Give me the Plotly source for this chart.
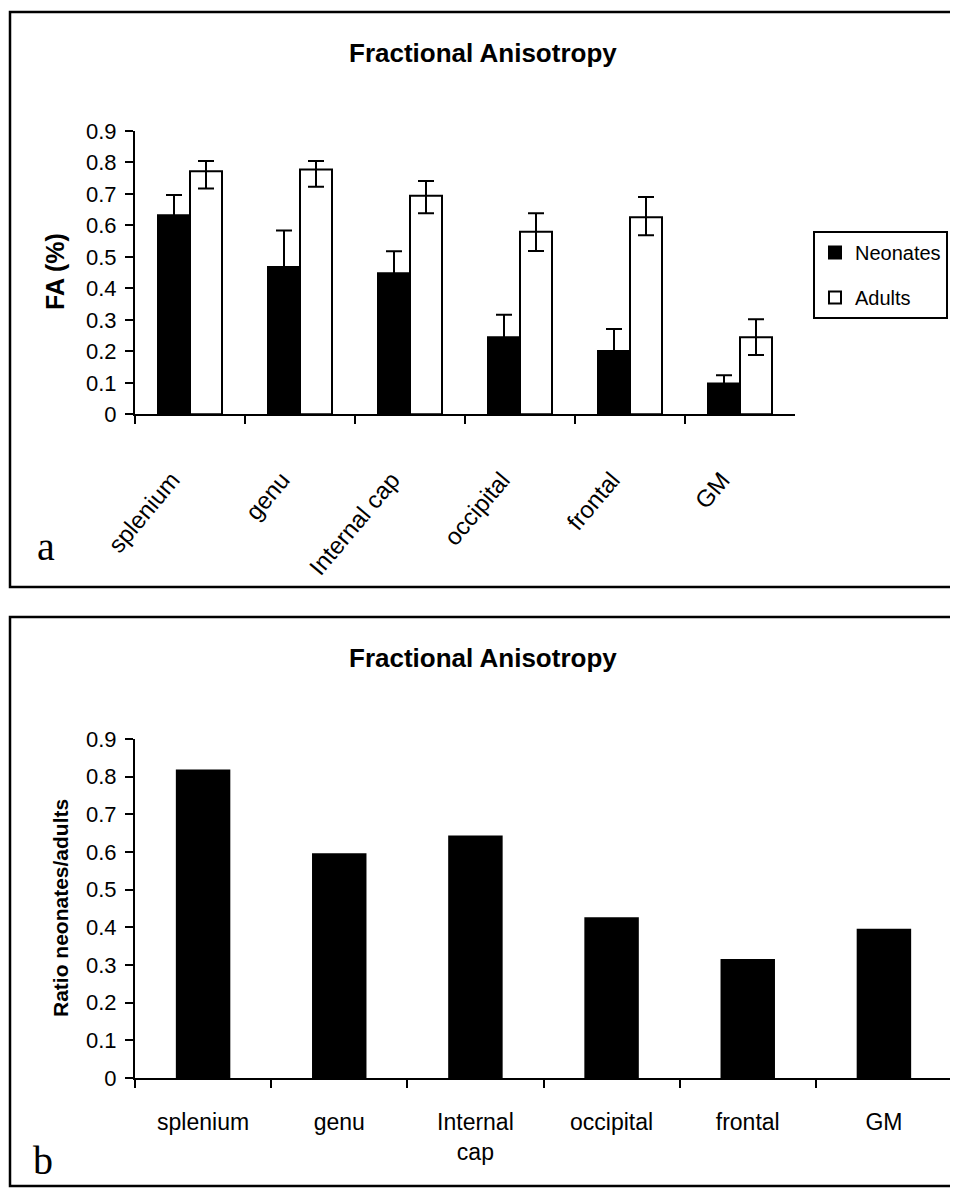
import plotly.graph_objects as go

# ---- data ----
categories_top = ["splenium", "genu", "Internal cap", "occipital", "frontal", "GM"]
neonates_fa = [0.632, 0.468, 0.448, 0.245, 0.201, 0.098]
neonates_err = [0.065, 0.116, 0.070, 0.071, 0.070, 0.026]
adults_fa = [0.772, 0.778, 0.694, 0.580, 0.626, 0.245]
adults_err_up = [0.033, 0.027, 0.047, 0.059, 0.064, 0.057]
adults_err_down = [0.055, 0.055, 0.055, 0.061, 0.057, 0.057]

categories_bottom = ["splenium", "genu", "Internal<br>cap", "occipital", "frontal", "GM"]
ratio_values = [0.819, 0.597, 0.644, 0.427, 0.316, 0.396]

y_ticks = [0, 0.1, 0.2, 0.3, 0.4, 0.5, 0.6, 0.7, 0.8, 0.9]
y_ticktext = ["0", "0.1", "0.2", "0.3", "0.4", "0.5", "0.6", "0.7", "0.8", "0.9"]

# page has an 8px body margin; the figure is sized to fit the window
OFF = 8
W, H = 958 - OFF, 1190 - OFF
FONT = "Liberation Sans, Arial, sans-serif"
SERIF = "Liberation Serif, Times New Roman, serif"

def px_x(x):
    return (x - OFF) / W

def px_y(y):
    return 1 - (y - OFF) / H

fig = go.Figure()

bw = 0.291
fig.add_trace(go.Bar(
    x=categories_top, y=neonates_fa, name="Neonates",
    marker=dict(color="black", line=dict(color="black", width=2)),
    width=bw, offset=-bw,
    error_y=dict(type="data", array=neonates_err, symmetric=True,
                 color="black", thickness=2, width=8),
    xaxis="x", yaxis="y", legendgroup="n",
))
fig.add_trace(go.Bar(
    x=categories_top, y=adults_fa, name="Adults",
    marker=dict(color="white", line=dict(color="black", width=2)),
    width=bw, offset=0,
    error_y=dict(type="data", array=adults_err_up, arrayminus=adults_err_down,
                 symmetric=False, color="black", thickness=2, width=8),
    xaxis="x", yaxis="y", legendgroup="a",
))
fig.add_trace(go.Bar(
    x=categories_bottom, y=ratio_values, name="Ratio",
    marker=dict(color="black", line=dict(color="black", width=0)),
    width=0.40, showlegend=False,
    xaxis="x2", yaxis="y2",
))

axis_common = dict(
    showline=True, linecolor="black", linewidth=2, mirror=False,
    showgrid=False, zeroline=False, ticks="outside", ticklen=8,
    tickwidth=2, tickcolor="black", automargin=False,
)
tick_font = dict(family=FONT, size=22, color="black")

fig.update_layout(
    template="none",
    width=W, height=H,
    margin=dict(l=0, r=0, t=0, b=0, autoexpand=False),
    paper_bgcolor="white", plot_bgcolor="white",
    barmode="overlay",
    showlegend=True,
    legend=dict(
        x=px_x(813), y=px_y(231), xanchor="left", yanchor="top",
        bordercolor="black", borderwidth=2, bgcolor="white",
        font=dict(family=FONT, size=20, color="black"),
        traceorder="grouped", tracegroupgap=16,
    ),
    xaxis=dict(domain=[px_x(135), px_x(795)], anchor="y", type="category",
               tickson="boundaries", tickangle=-50,
               ticklabelstandoff=40, ticklabelshift=-18,
               tickfont=dict(family=FONT, size=24, color="black"),
               **axis_common),
    yaxis=dict(domain=[px_y(414.3), px_y(131)], anchor="x", range=[0, 0.9],
               tickvals=y_ticks, ticktext=y_ticktext, ticklabelstandoff=4,
               tickfont=tick_font, **axis_common),
    xaxis2=dict(domain=[px_x(135), px_x(952)], anchor="y2", type="category",
                tickson="boundaries", tickangle=0, ticklabelstandoff=22,
                tickfont=dict(family=FONT, size=23, color="black"),
                **axis_common),
    yaxis2=dict(domain=[px_y(1078), px_y(739)], anchor="x2", range=[0, 0.9],
                tickvals=y_ticks, ticktext=y_ticktext, ticklabelstandoff=4,
                tickfont=tick_font, **axis_common),
)

# panel borders
fig.add_shape(type="rect", xref="paper", yref="paper",
              x0=px_x(10), x1=px_x(975), y0=px_y(587), y1=px_y(12),
              line=dict(color="black", width=2.5), layer="below")
fig.add_shape(type="rect", xref="paper", yref="paper",
              x0=px_x(10), x1=px_x(975), y0=px_y(1186), y1=px_y(617),
              line=dict(color="black", width=2.5), layer="below")

ann = []
for ty in (53, 658):
    ann.append(dict(text="<b>Fractional Anisotropy</b>", x=px_x(483), y=px_y(ty),
                    xref="paper", yref="paper", showarrow=False,
                    xanchor="center", yanchor="middle",
                    font=dict(family=FONT, size=26, color="black")))
ann.append(dict(text="<b>FA (%)</b>", x=px_x(55), y=px_y(272), xref="paper", yref="paper",
                showarrow=False, textangle=-90, xanchor="center", yanchor="middle",
                font=dict(family=FONT, size=25, color="black")))
ann.append(dict(text="<b>Ratio neonates/adults</b>", x=px_x(61), y=px_y(908), xref="paper", yref="paper",
                showarrow=False, textangle=-90, xanchor="center", yanchor="middle",
                font=dict(family=FONT, size=21, color="black")))
ann.append(dict(text="a", x=px_x(46), y=px_y(546), xref="paper", yref="paper",
                showarrow=False, xanchor="center", yanchor="middle",
                font=dict(family=SERIF, size=40, color="black")))
ann.append(dict(text="b", x=px_x(43), y=px_y(1160), xref="paper", yref="paper",
                showarrow=False, xanchor="center", yanchor="middle",
                font=dict(family=SERIF, size=40, color="black")))
fig.update_layout(annotations=ann)

fig.write_html("out.html")
